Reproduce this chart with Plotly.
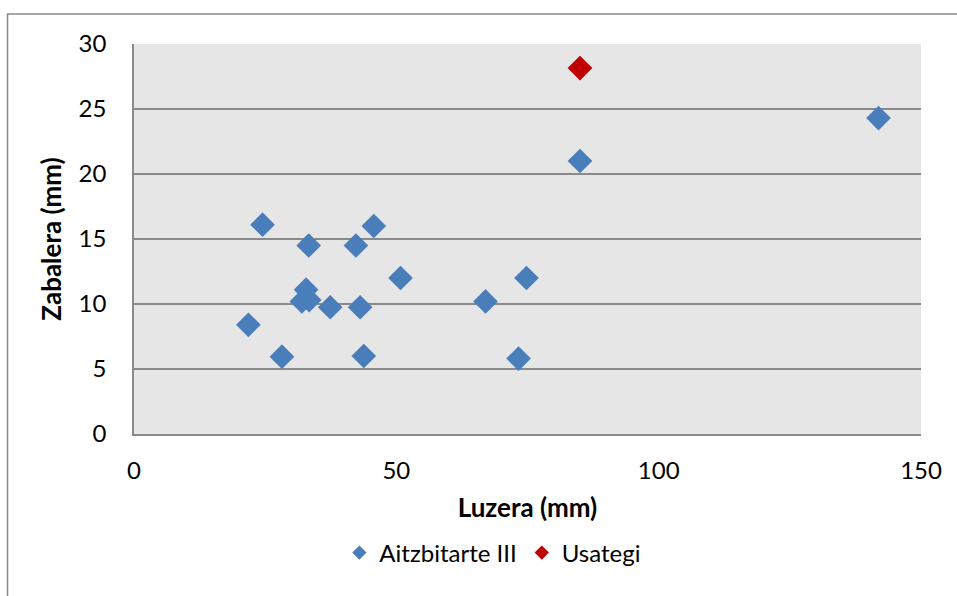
import plotly.graph_objects as go

# Data
aitz_x = [24.5, 21.8, 28.2, 33.3, 32.8, 32.0, 33.4, 37.4, 42.3, 45.7, 43.1, 43.8, 50.8, 67.0, 74.8, 73.3, 85.0, 141.9]
aitz_y = [16.1, 8.4, 5.95, 14.5, 11.1, 10.2, 10.3, 9.75, 14.5, 16.0, 9.75, 6.0, 12.0, 10.2, 12.0, 5.8, 21.0, 24.3]
usa_x = [85.0]
usa_y = [28.15]

series_names = ["Aitzbitarte III", "Usategi"]
colors = ["#4a7ebb", "#c00000"]
x_ticks = [0, 50, 100, 150]
y_ticks = [0, 5, 10, 15, 20, 25, 30]

FONT = "Lato"

fig = go.Figure()
fig.add_trace(go.Scatter(x=aitz_x, y=aitz_y, mode="markers", name=series_names[0],
                         marker=dict(symbol="diamond", size=19, color=colors[0], line=dict(width=0)),
                         showlegend=False))
fig.add_trace(go.Scatter(x=usa_x, y=usa_y, mode="markers", name=series_names[1],
                         marker=dict(symbol="diamond", size=19, color=colors[1], line=dict(width=0)),
                         showlegend=False))
# legend entries (smaller symbols)
for n, c in zip(series_names, colors):
    fig.add_trace(go.Scatter(x=[None], y=[None], mode="markers", name=n,
                             marker=dict(symbol="diamond", size=11, color=c, line=dict(width=0))))

fig.update_layout(
    width=957, height=596,
    margin=dict(l=134, r=36, t=44, b=162),
    paper_bgcolor="white",
    plot_bgcolor="#e6e6e6",
    font=dict(family=FONT, size=24, color="black"),
    showlegend=True,
    legend=dict(orientation="h", x=0.456, xanchor="center", y=-0.305, yanchor="middle",
                font=dict(family=FONT, size=24, color="black"), itemwidth=30,
                bgcolor="rgba(0,0,0,0)"),
    xaxis=dict(range=[0, 150], tickvals=x_ticks, showgrid=False, zeroline=False,
               showline=True, linecolor="#8a8a8a", linewidth=1.5, ticks="",
               ticklabelstandoff=14,
               title=dict(text="<b>Luzera (mm)</b>", font=dict(family=FONT, size=26), standoff=16)),
    yaxis=dict(range=[0, 30], tickvals=y_ticks, showgrid=True, gridcolor="#8a8a8a", gridwidth=1.5,
               zeroline=False, showline=True, linecolor="#8a8a8a", linewidth=1.5, ticks="",
               ticklabelstandoff=21,
               title=dict(text="<b>Zabalera (mm)</b>", font=dict(family=FONT, size=26), standoff=10)),
    shapes=[dict(type="rect", xref="paper", yref="paper",
                 x0=-0.1607, x1=1.2, y0=-0.6, y1=1.077,
                 line=dict(color="#8a8a8a", width=1.5), fillcolor="rgba(0,0,0,0)", layer="below")],
)

fig.write_html(
    "out.html",
    config={"displayModeBar": False},
    post_script=("document.body.style.margin='0';"
                 "document.documentElement.style.overflow='hidden';"
                 "document.body.style.overflow='hidden';"),
)
